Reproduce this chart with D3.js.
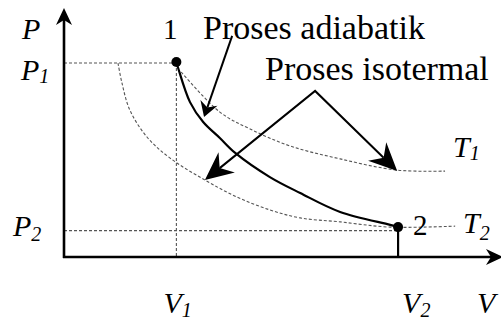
<!DOCTYPE html>
<html>
<head>
<meta charset="utf-8">
<script src="https://cdn.jsdelivr.net/npm/d3@7"></script>
<style>
  body { margin: 0; background: #fff; }
  svg { display: block; }
</style>
</head>
<body>
<svg width="501" height="326"></svg>
<script>
"use strict";

// V and P in arbitrary units, both axes run 0..100
const V1 = 25.6, V2 = 76.1;
const P1 = 77.9, P2 = 10.6;
const point1 = [25.6, 78.3];
const point2 = [76.1, 12.0];

const adiabatic = [
  [25.6, 78.3], [26.0, 75.9], [28.7, 62.2], [31.7, 54.2], [35.5, 47.8], [39.0, 41.8],
  [46.9, 32.1], [53.8, 25.7], [62.9, 18.1], [74.3, 12.9], [76.1, 12.0]
];
const isothermT1 = [
  [26.7, 74.3], [35.5, 58.2], [42.4, 51.4], [51.5, 44.6], [62.9, 39.4], [75.9, 34.9], [86.8, 34.5]
];
const isothermT2 = [
  [12.3, 77.9], [13.2, 69.9], [15.0, 59.0], [18.9, 48.2], [24.1, 39.8], [32.1, 30.9], [39.4, 24.1],
  [46.9, 18.9], [53.8, 15.7], [62.9, 14.1], [74.3, 12.0], [89.1, 12.4]
];

// annotation arrows: [start, tip]
const arrowAdiabatic = [[38.3, 88.8], [31.9, 56.2]];
const isoApex = [57.2, 66.7];
const isoTips = [[32.1, 30.9], [75.9, 34.5]];

const svg = d3.select("svg");
const x = d3.scaleLinear().domain([0, 100]).range([64, 503]);
const y = d3.scaleLinear().domain([0, 100]).range([257, 8]);

const line = d3.line().x(d => x(d[0])).y(d => y(d[1])).curve(d3.curveCatmullRom.alpha(0.5));

// swallow-tail arrow head at tip, pointing away from "from"
function head(from, tip, L, W, n) {
  const a = Math.atan2(tip[1] - from[1], tip[0] - from[0]);
  svg.append("path")
    .attr("d", `M0,0L${-L},${-W}L${-(L - n)},0L${-L},${W}Z`)
    .attr("transform", `translate(${tip[0]},${tip[1]}) rotate(${a * 180 / Math.PI})`)
    .attr("fill", "#000");
  // where the shaft should stop
  return [tip[0] - (L - n) * Math.cos(a), tip[1] - (L - n) * Math.sin(a)];
}

function dash(sel) {
  return sel.attr("stroke", "#555").attr("stroke-width", 1.1)
    .attr("stroke-dasharray", "3,2").attr("fill", "none");
}

// guide lines
dash(svg.append("line")).attr("x1", x(0)).attr("x2", x(V1)).attr("y1", y(P1)).attr("y2", y(P1));
dash(svg.append("line")).attr("x1", x(V1)).attr("x2", x(V1)).attr("y1", y(P1)).attr("y2", y(0));
dash(svg.append("line")).attr("x1", x(0)).attr("x2", x(V2)).attr("y1", y(P2)).attr("y2", y(P2));

// isotherms
dash(svg.append("path")).attr("d", line(isothermT1));
dash(svg.append("path")).attr("d", line(isothermT2));

// adiabatic process
svg.append("path").attr("d", line(adiabatic))
  .attr("fill", "none").attr("stroke", "#000").attr("stroke-width", 2.2);

// drop line from point 2
svg.append("line").attr("x1", x(V2)).attr("x2", x(V2)).attr("y1", y(point2[1])).attr("y2", y(0))
  .attr("stroke", "#000").attr("stroke-width", 2.2);

// axes
const origin = [x(0), y(0)];
let end = head(origin, [x(0), y(100)], 17, 8, 5);
svg.append("line").attr("x1", origin[0]).attr("y1", origin[1] + 1).attr("x2", end[0]).attr("y2", end[1])
  .attr("stroke", "#000").attr("stroke-width", 2.6);
end = head(origin, [x(100), y(0)], 17, 8, 5);
svg.append("line").attr("x1", origin[0] - 1).attr("y1", origin[1]).attr("x2", end[0]).attr("y2", end[1])
  .attr("stroke", "#000").attr("stroke-width", 2.6);

// points
[point1, point2].forEach(p => {
  svg.append("circle").attr("cx", x(p[0])).attr("cy", y(p[1])).attr("r", 5).attr("fill", "#000");
});

// annotation arrows
{
  const s = [x(arrowAdiabatic[0][0]), y(arrowAdiabatic[0][1])];
  const t = [x(arrowAdiabatic[1][0]), y(arrowAdiabatic[1][1])];
  const e = head(s, t, 15, 9, 5);
  svg.append("line").attr("x1", s[0]).attr("y1", s[1]).attr("x2", e[0]).attr("y2", e[1])
    .attr("stroke", "#000").attr("stroke-width", 2);
}
{
  const apex = [x(isoApex[0]), y(isoApex[1])];
  const ends = isoTips.map(tp => head(apex, [x(tp[0]), y(tp[1])], 28, 13, 9));
  svg.append("path")
    .attr("d", `M${ends[0][0]},${ends[0][1]}L${apex[0]},${apex[1]}L${ends[1][0]},${ends[1][1]}`)
    .attr("fill", "none").attr("stroke", "#000").attr("stroke-width", 2).attr("stroke-linejoin", "miter");
}

// labels
function label(px, py, main, sub, size, italic, subDy) {
  const t = svg.append("text").attr("x", px).attr("y", py)
    .attr("font-family", "'Liberation Serif', 'DejaVu Serif', serif")
    .attr("font-size", size).attr("font-style", italic ? "italic" : "normal").attr("fill", "#000");
  t.append("tspan").text(main);
  if (sub) t.append("tspan").attr("dy", subDy).attr("font-size", 20).text(sub);
  return t;
}

label(22, 39, "P", null, 30, true);
label(21, y(P1) + 17, "P", "1", 30, true, 3);
label(13, y(P2) + 5, "P", "2", 30, true, 5);
label(x(V1) - 13, 313, "V", "1", 30, true, 4);
label(x(V2) + 4, 313, "V", "2", 30, true, 4);
label(477, 313, "V", null, 30, true);
label(453, 157, "T", "1", 30, true, 3);
label(463, 233, "T", "2", 30, true, 7);
label(163, 39, "1", null, 29, false);
label(413, 235, "2", null, 29, false);
label(203, 39, "Proses adiabatik", null, 34, false);
label(265, 80, "Proses isotermal", null, 34, false);
</script>
</body>
</html>
